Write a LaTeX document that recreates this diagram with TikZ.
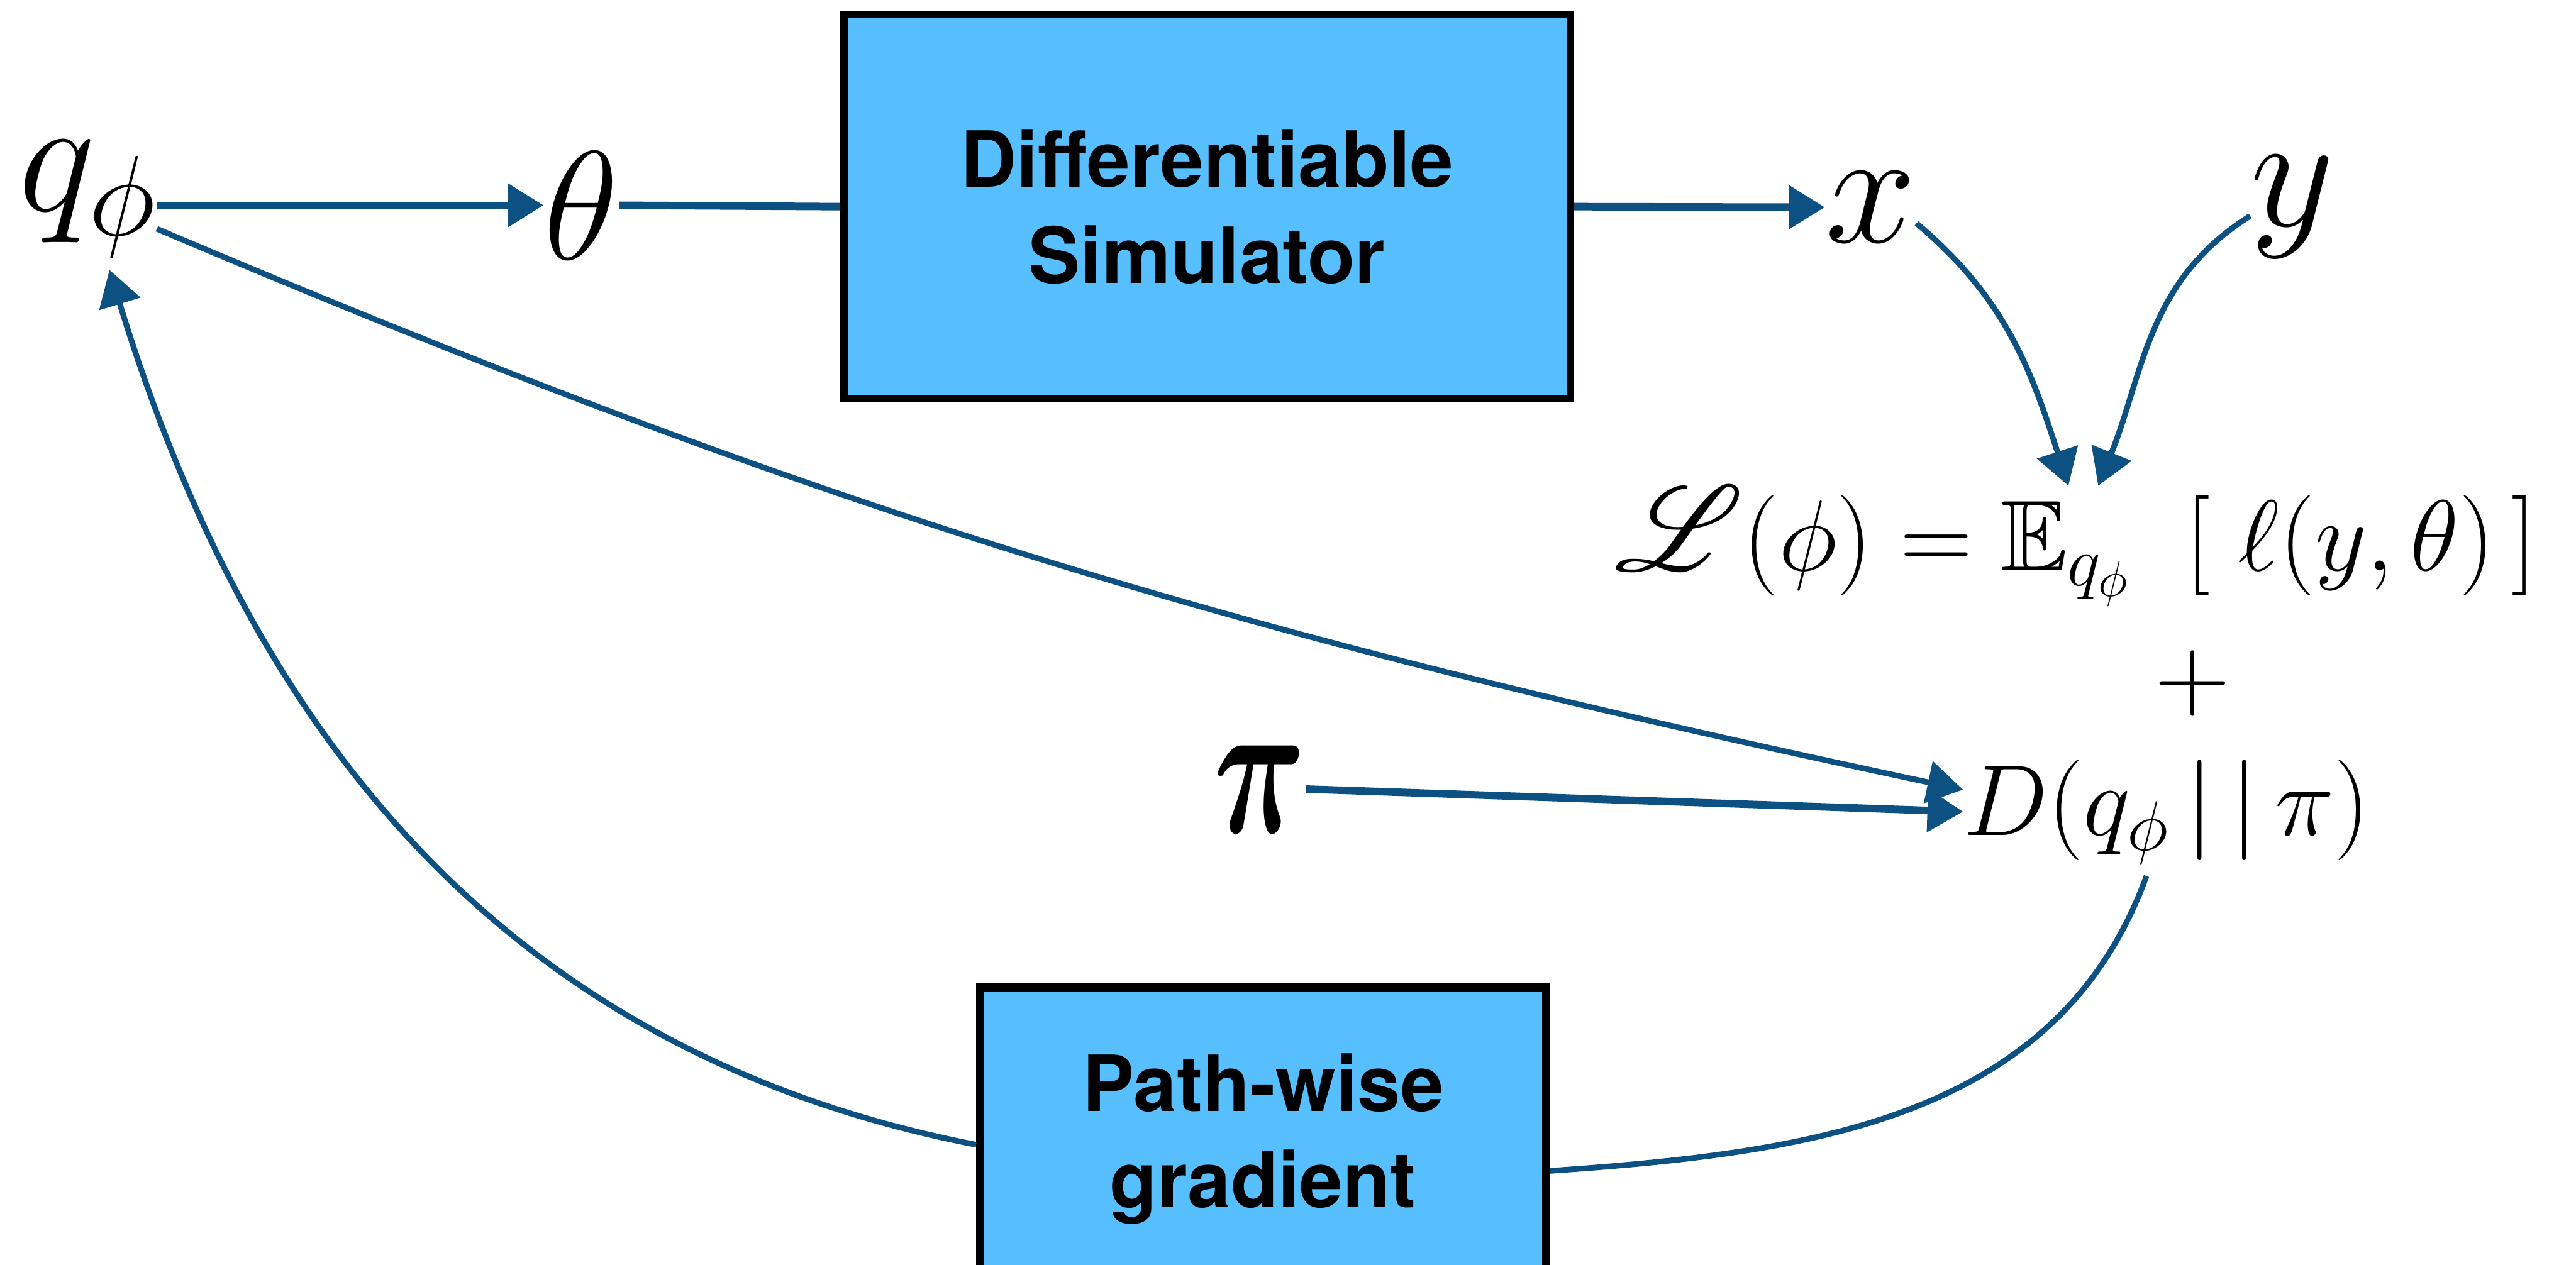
\RequirePackage{fix-cm}
\documentclass[tikz,border=0pt]{standalone}
\usepackage{amsmath,amssymb}
\usepackage{mathrsfs}
\DeclareFontFamily{U}{rsfs}{\skewchar\font127 }
\DeclareFontShape{U}{rsfs}{m}{n}{<-6>rsfs5<6-8>rsfs7<8->rsfs10}{}
\usepackage{graphicx}
\usepackage{fontspec}
\usepackage{tikz}
\usetikzlibrary{arrows.meta,calc}
\newfontfamily\boxfont{TeX Gyre Heros}
\definecolor{simfill}{HTML}{57BFFE}
\definecolor{flowC}{HTML}{0D5182}

\begin{document}
\begin{tikzpicture}[>={Triangle[length=17pt,width=20pt]},
  sym/.style={inner sep=0pt,font=\fontsize{78}{90}\selectfont},
  eq/.style={inner sep=0pt,font=\fontsize{48}{58}\selectfont},
  box/.style={draw,line width=3.7pt,fill=simfill,align=center,
              font=\boxfont\bfseries\fontsize{37}{46}\selectfont},
  flow/.style={draw=flowC,line width=3.6pt},
  flowthin/.style={draw=flowC,line width=2.7pt}]
\path[use as bounding box,clip] (0,0) rectangle (43.24,-21.23);

% top row
\node[sym,anchor=base west] (q) at (0.30,-3.54) {$q_\phi$};
\node[sym,anchor=base,font=\fontsize{74}{88}\selectfont] (th) at (9.76,-4.35) {$\theta$};
\node[box,minimum width=12.2cm,minimum height=6.45cm] (sim) at (20.26,-3.47)
  {Differentiable\\Simulator};
\node[sym,anchor=base] (x) at (31.40,-4.07) {$x$};
\node[sym,anchor=base] (y) at (38.48,-3.80) {$y$};

% objective
\node[eq,anchor=base] (loss) at (34.84,-9.58)
  {$\scalebox{1.2}{$\mathscr{L}$}(\phi) = \mathbb{E}_{q_\phi}\;\;[\;\ell(y,\theta)\,]$};
\node[eq,font=\fontsize{50}{60}\selectfont] (plus) at (36.80,-11.47) {$+$};
\node[eq,anchor=base] (kl) at (36.37,-14.02) {$D(q_\phi\,|\,|\,\pi)$};
\node[sym,anchor=base] (prior) at (21.15,-13.98) {\scalebox{0.78}[1.2]{$\boldsymbol{\pi}$}};

\node[box,minimum width=9.5cm,minimum height=5.08cm] (grad) at (21.20,-19.12)
  {Path-wise\\gradient};

\draw[flow,->] (q.east |- th.west) -- (th.west);
\draw[flow] (th.east) -- (sim.west);
\draw[flow,->] (sim.east) -- (x.west);
\draw[flowthin,->] ([yshift=-0.27cm]x.east) to[out=-40,in=108] ([xshift=-0.12cm]loss.north);
\draw[flowthin,->] ([yshift=-0.15cm]y.west) to[out=212,in=68] ([xshift=0.38cm]loss.north);
\draw[flowthin,->] ([yshift=-0.5cm]q.east) to[out=-23,in=168] ([yshift=0.37cm]kl.west);
\draw[flow,->] (prior.east) -- (kl.west);
\draw[flowthin] ([xshift=-0.34cm,yshift=-0.2cm]kl.south) to[out=-110,in=4] ([yshift=-0.54cm]grad.east);
\draw[flowthin,->] ([yshift=-0.1cm]grad.west) to[out=169,in=-73] ([xshift=0.37cm,yshift=-0.2cm]q.south);
\end{tikzpicture}
\end{document}
